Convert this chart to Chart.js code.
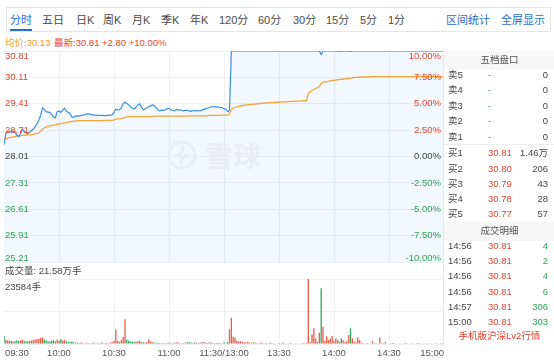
<!DOCTYPE html>
<html>
<head>
<meta charset="utf-8">
<script src="https://cdn.jsdelivr.net/npm/chart.js@4.4.1/dist/chart.umd.min.js"></script>
<style>
  body { margin: 0; width: 554px; height: 362px; overflow: hidden; background: #fff; position: relative;
         font-family: "Liberation Sans", Arial, "Noto Sans CJK SC", sans-serif; }
  .t { position: absolute; white-space: nowrap; line-height: 14px; }
  #tabs { position: absolute; left: 6px; top: 7px; width: 545px; height: 25px; border: 1px solid #e6e6e6; box-sizing: border-box; }
  .tab { font-size: 11px; color: #4a4a4a; top: 13px; }
  #priceBox { position: absolute; left: 0; top: 40px; }
  #volBox { position: absolute; left: 0; top: 265px; }
  #book { position: absolute; left: 443px; top: 48px; width: 111px; height: 297px; border-left: 1px solid #e8e8e8; }
  .hdr { position: absolute; left: 0; width: 111px; height: 19px; background: #f7f7f8; }
  .bk { font-size: 9.5px; }
</style>
</head>
<body>
<div id="tabs"></div>
<div class="t" style="left:5px;top:36px;font-size:9.5px;color:#f09a2a;">均价:30.13</div>
<div class="t" style="left:54px;top:36px;font-size:9.5px;color:#e4472f;">最新:30.81 +2.80 +10.00%</div>
<div id="priceBox"><canvas id="priceChart" width="444" height="230"></canvas></div>
<div id="volBox"><canvas id="volChart" width="444" height="97"></canvas></div>
<div id="book"></div>
<script>
// ---- data ----
const prevClose = 28.01;
const priceTicks = [30.81, 30.11, 29.41, 28.71, 28.01, 27.31, 26.61, 25.91, 25.21];
const pctTicks = ['10.00%', '7.50%', '5.00%', '2.50%', '0.00%', '-2.50%', '-5.00%', '-7.50%', '-10.00%'];
const timeTicks = [0, 30, 60, 90, 120, 150, 180, 210, 240];
const timeLabels = ['09:30', '10:00', '10:30', '11:00', '11:30/13:00', '13:30', '14:00', '14:30', '15:00'];
const volMax = 23584;

const price = [
  28.32, 28.62, 28.66, 28.67, 28.66, 28.68, 28.66, 28.58, 28.54, 28.62,
  28.72, 28.68, 28.64, 28.62, 28.66, 28.70, 28.74, 28.80, 28.88, 28.98,
  29.10, 29.30, 29.26, 29.20, 29.19, 29.18, 29.12, 29.05, 29.04, 29.20,
  29.22, 29.18, 29.24, 29.29, 29.22, 29.18, 29.16, 29.06, 29.05, 29.08,
  29.09, 29.08, 29.10, 29.11, 29.12, 29.14, 29.14, 29.13, 29.12, 29.11,
  29.11, 29.10, 29.10, 29.10, 29.10, 29.09, 29.10, 29.10, 29.11, 29.12,
  29.18, 29.27, 29.24, 29.25, 29.30, 29.42, 29.45, 29.42, 29.38, 29.33,
  29.30, 29.27, 29.32, 29.38, 29.41, 29.32, 29.25, 29.28, 29.31, 29.33,
  29.36, 29.38, 29.36, 29.30, 29.25, 29.22, 29.24, 29.23, 29.25, 29.28,
  29.29, 29.25, 29.23, 29.22, 29.26, 29.24, 29.25, 29.23, 29.22, 29.24,
  29.23, 29.22, 29.21, 29.23, 29.22, 29.22, 29.23, 29.22, 29.24, 29.26,
  29.28, 29.29, 29.31, 29.33, 29.33, 29.33, 29.32, 29.33, 29.31, 29.31,
  29.28, 29.26, 29.20, 29.24, 30.81, 30.81, 30.81, 30.81, 30.81, 30.81,
  30.81, 30.81, 30.81, 30.81, 30.81, 30.81, 30.81, 30.81, 30.81, 30.81,
  30.81, 30.81, 30.81, 30.81, 30.81, 30.81, 30.81, 30.81, 30.81, 30.81,
  30.81, 30.81, 30.81, 30.81, 30.81, 30.81, 30.81, 30.81, 30.81, 30.81,
  30.81, 30.81, 30.81, 30.81, 30.81, 30.81, 30.81, 30.81, 30.81, 30.81,
  30.81, 30.81, 30.81, 30.72, 30.81, 30.81, 30.81, 30.81, 30.81, 30.81,
  30.81, 30.81, 30.80, 30.81, 30.80, 30.81, 30.81, 30.81, 30.81, 30.80,
  30.81, 30.81, 30.81, 30.81, 30.81, 30.81, 30.81, 30.81, 30.81, 30.81,
  30.81, 30.81, 30.81, 30.81, 30.81, 30.81, 30.81, 30.81, 30.81, 30.81,
  30.81, 30.81, 30.81, 30.81, 30.81, 30.81, 30.81, 30.81, 30.81, 30.81,
  30.81, 30.81, 30.81, 30.81, 30.81, 30.81, 30.81, 30.81, 30.81, 30.81,
  30.81, 30.81, 30.81, 30.81, 30.81, 30.81, 30.81, 30.81, 30.81, 30.81,
  30.81
];

const avgPrice = [
  28.46, 28.48, 28.50, 28.51, 28.52, 28.53, 28.54, 28.55, 28.55, 28.56,
  28.57, 28.57, 28.58, 28.58, 28.59, 28.59, 28.60, 28.61, 28.62, 28.64,
  28.68, 28.73, 28.77, 28.79, 28.81, 28.82, 28.83, 28.84, 28.85, 28.86,
  28.87, 28.88, 28.89, 28.90, 28.91, 28.92, 28.93, 28.94, 28.95, 28.95,
  28.96, 28.96, 28.96, 28.96, 28.96, 28.96, 28.96, 28.96, 28.96, 28.96,
  28.96, 28.96, 28.96, 28.96, 28.96, 28.97, 28.97, 28.97, 28.97, 28.97,
  28.98, 29.00, 29.01, 29.01, 29.02, 29.03, 29.05, 29.06, 29.06, 29.07,
  29.07, 29.07, 29.07, 29.07, 29.07, 29.07, 29.07, 29.07, 29.07, 29.07,
  29.07, 29.07, 29.08, 29.08, 29.08, 29.08, 29.08, 29.08, 29.08, 29.08,
  29.08, 29.08, 29.08, 29.08, 29.08, 29.08, 29.08, 29.08, 29.08, 29.08,
  29.09, 29.09, 29.09, 29.09, 29.09, 29.09, 29.09, 29.09, 29.09, 29.09,
  29.09, 29.09, 29.10, 29.10, 29.10, 29.10, 29.10, 29.10, 29.11, 29.11,
  29.11, 29.11, 29.11, 29.14, 29.25, 29.29, 29.31, 29.33, 29.34, 29.35,
  29.36, 29.37, 29.38, 29.38, 29.39, 29.39, 29.40, 29.40, 29.41, 29.41,
  29.42, 29.42, 29.43, 29.43, 29.43, 29.44, 29.44, 29.44, 29.45, 29.45,
  29.45, 29.46, 29.46, 29.46, 29.46, 29.47, 29.47, 29.47, 29.47, 29.48,
  29.48, 29.48, 29.48, 29.49, 29.49, 29.49, 29.69, 29.72, 29.76, 29.79,
  29.82, 29.84, 29.86, 29.95, 29.98, 29.99, 30.00, 30.01, 30.02, 30.03,
  30.03, 30.04, 30.05, 30.05, 30.06, 30.06, 30.07, 30.08, 30.08, 30.09,
  30.10, 30.11, 30.11, 30.11, 30.12, 30.12, 30.12, 30.12, 30.12, 30.12,
  30.13, 30.13, 30.13, 30.13, 30.13, 30.13, 30.13, 30.13, 30.13, 30.13,
  30.13, 30.13, 30.13, 30.13, 30.13, 30.13, 30.13, 30.13, 30.13, 30.13,
  30.13, 30.13, 30.13, 30.13, 30.13, 30.13, 30.13, 30.13, 30.13, 30.13,
  30.13, 30.13, 30.13, 30.13, 30.13, 30.13, 30.13, 30.13, 30.13, 30.13,
  30.13
];

const volume = [
  2900, 1500, 1300, 1200, 1100, 900, 1000, 1400, 1100, 1300,
  1500, 1200, 1000, 900, 1100, 1300, 1500, 1600, 1800, 2000,
  2200, 2400, 1600, 1300, 1000, 900, 1200, 1400, 900, 1500,
  1200, 1700, 1300, 1500, 900, 800, 700, 900, 600, 500,
  500, 400, 600, 400, 300, 500, 400, 300, 400, 500,
  300, 400, 300, 500, 400, 300, 400, 300, 500, 600,
  1200, 5300, 1000, 800, 1500, 2500, 9000, 1500, 1200, 900,
  800, 700, 900, 1000, 1200, 700, 600, 500, 700, 1800,
  900, 600, 500, 400, 500, 400, 300, 400, 300, 400,
  500, 400, 300, 400, 600, 500, 400, 300, 400, 500,
  600, 700, 500, 400, 600, 500, 400, 500, 600, 700,
  500, 400, 600, 500, 400, 300, 400, 500, 400, 300,
  600, 400, 700, 5300, 9500, 2600, 2300, 1200, 900, 1000,
  800, 600, 500, 700, 500, 400, 600, 500, 400, 300,
  500, 400, 300, 400, 300, 500, 400, 300, 200, 300,
  400, 300, 500, 300, 200, 300, 400, 300, 200, 300,
  300, 200, 300, 400, 300, 500, 23584, 600, 3500, 5700,
  2000, 800, 4100, 20200, 6300, 1200, 2800, 1400, 2000, 2900,
  1000, 2000, 1400, 800, 2000, 1400, 700, 1000, 3300, 5700,
  2100, 900, 600, 2400, 1400, 500, 400, 300, 400, 300,
  300, 1000, 400, 300, 300, 2400, 400, 300, 700, 300,
  200, 300, 400, 300, 200, 300, 300, 200, 300, 400,
  300, 200, 300, 300, 200, 300, 400, 300, 200, 300,
  300, 200, 300, 300, 200, 300, 300, 200, 300, 400,
  1000
];

// order book
const bookLabels = ['卖5', '卖4', '卖3', '卖2', '卖1', '买1', '买2', '买3', '买4', '买5'];
const bookPrices = ['-', '-', '-', '-', '-', '30.81', '30.80', '30.79', '30.78', '30.77'];
const bookVols = ['0', '0', '0', '0', '0', '1.46万', '206', '43', '28', '57'];
const tradeTimes = ['14:56', '14:56', '14:56', '14:56', '14:57', '15:00'];
const tradePrices = ['30.81', '30.81', '30.81', '30.81', '30.81', '30.81'];
const tradeVols = ['4', '2', '4', '6', '306', '303'];

const tabNames = ['分时', '五日', '日K', '周K', '月K', '季K', '年K', '120分', '60分', '30分', '15分', '5分', '1分'];

// ---- colors ----
const RED = '#e4472f';
const GREEN = '#2fa358';
const GRID = '#eef0f4';
const FONT = '"Liberation Sans", Arial, "Noto Sans CJK SC"';

// top tabs
const tabX = [10, 42, 76, 103, 132, 161, 190, 219, 258, 293, 326, 360, 388];
tabNames.forEach((name, i) => {
    const s = document.createElement('div');
    s.className = 't tab';
    s.style.left = tabX[i] + 'px';
    s.textContent = name;
    if (i === 0) s.style.color = '#1f6fd0';
    document.body.appendChild(s);
});
[['区间统计', 446], ['全屏显示', 501]].forEach(([txt, x]) => {
    const s = document.createElement('div');
    s.className = 't tab';
    s.style.left = x + 'px';
    s.style.color = '#2a6fc9';
    s.textContent = txt;
    document.body.appendChild(s);
});
const ul = document.createElement('div');
ul.style.cssText = 'position:absolute;left:10px;top:29px;width:22px;height:2px;background:#1f6fd0;';
document.body.appendChild(ul);

// right panel
const book = document.getElementById('book');
function addText(txt, x, cy, color, align) {
    const d = document.createElement('div');
    d.className = 't bk';
    d.textContent = txt;
    d.style.color = color;
    d.style.top = (cy - 48 - 7) + 'px';
    if (align === 'right') d.style.right = (554 - x) + 'px';
    else if (align === 'center') { d.style.left = '0'; d.style.width = '111px'; d.style.textAlign = 'center'; }
    else d.style.left = (x - 443) + 'px';
    book.appendChild(d);
}
function addHeader(txt, cy) {
    const h = document.createElement('div');
    h.className = 'hdr';
    h.style.top = (cy - 48 - 9) + 'px';
    book.appendChild(h);
    addText(txt, 0, cy, '#555', 'center');
}
addHeader('五档盘口', 60);
bookLabels.forEach((lab, i) => {
    const cy = i < 5 ? 75 + i * 15.4 : 153.3 + (i - 5) * 15.2;
    addText(lab, 447, cy, '#444');
    addText(bookPrices[i], 487, cy, i < 5 ? GREEN : RED);
    addText(bookVols[i], 547, cy, '#444', 'right');
});
const sep = document.createElement('div');
sep.style.cssText = 'position:absolute;left:0;top:96px;width:111px;height:1px;background:#ececec;';
book.appendChild(sep);
addHeader('成交明细', 230.5);
tradeTimes.forEach((tm, i) => {
    const cy = 245.7 + i * 15.3;
    addText(tm, 447, cy, '#444');
    addText(tradePrices[i], 487, cy, RED);
    addText(tradeVols[i], 547, cy, GREEN, 'right');
});
addText('手机版沪深Lv2行情', 0, 336, '#e33b2a', 'center');

// ---- charts ----
const idx = price.map((_, i) => i);

const priceDecor = {
    id: 'priceDecor',
    beforeDatasetsDraw(chart) {
        const ctx = chart.ctx;
        // watermark
        ctx.save();
        ctx.strokeStyle = '#e9ecf1';
        ctx.lineWidth = 3;
        ctx.beginPath();
        ctx.arc(182, 115, 13, 0, Math.PI * 2);
        ctx.stroke();
        ctx.beginPath();
        ctx.arc(174, 107, 9, -0.2, 1.4);
        ctx.stroke();
        ctx.beginPath();
        ctx.arc(190, 123, 9, Math.PI - 0.2, Math.PI + 1.4);
        ctx.stroke();
        ctx.fillStyle = '#e9ecf1';
        ctx.font = 'bold 28px "Noto Sans CJK SC"';
        ctx.textBaseline = 'middle';
        ctx.fillText('雪球', 205, 116);
        ctx.restore();
    },
    afterDraw(chart) {
        const ctx = chart.ctx;
        const y = chart.scales.y;
        ctx.save();
        ctx.font = '9.5px ' + FONT;
        ctx.textBaseline = 'middle';
        priceTicks.forEach((v, i) => {
            let py = y.getPixelForValue(v);
            if (i === 0) py += 5;
            if (i === priceTicks.length - 1) py -= 4;
            const diff = v - prevClose;
            ctx.fillStyle = diff > 0.001 ? RED : (diff < -0.001 ? GREEN : '#444');
            ctx.textAlign = 'left';
            ctx.fillText(v.toFixed(2), 5, py);
            ctx.textAlign = 'right';
            ctx.fillText(pctTicks[i], 441, py);
        });
        ctx.restore();
    }
};

new Chart(document.getElementById('priceChart'), {
    type: 'line',
    data: {
        labels: idx,
        datasets: [
            {
                data: price,
                borderColor: '#3a8ee6',
                borderWidth: 1.2,
                pointRadius: 0,
                fill: 'start',
                backgroundColor: 'rgba(58,142,230,0.06)'
            },
            {
                data: avgPrice,
                borderColor: '#f3a63a',
                borderWidth: 1.3,
                pointRadius: 0,
                fill: false
            }
        ]
    },
    options: {
        responsive: false,
        animation: false,
        events: [],
        layout: { padding: { left: 4, right: 0, top: 11, bottom: 8 } },
        plugins: { legend: { display: false }, tooltip: { enabled: false }, filler: { drawTime: 'beforeDatasetsDraw' } },
        scales: {
            x: {
                type: 'linear', min: 0, max: 240,
                afterBuildTicks: s => { s.ticks = timeTicks.slice(1, -1).map(v => ({ value: v })); },
                ticks: { display: false },
                grid: { color: GRID, drawTicks: false },
                border: { display: false }
            },
            y: {
                min: priceTicks[priceTicks.length - 1], max: priceTicks[0],
                afterBuildTicks: s => { s.ticks = priceTicks.map(v => ({ value: v })); },
                ticks: { display: false },
                grid: { color: GRID, drawTicks: false },
                border: { display: false }
            }
        }
    },
    plugins: [priceDecor]
});

const volDecor = {
    id: 'volDecor',
    afterDraw(chart) {
        const ctx = chart.ctx;
        const x = chart.scales.x;
        const area = chart.chartArea;
        ctx.save();
        ctx.font = '9.5px ' + FONT;
        ctx.textBaseline = 'middle';
        ctx.fillStyle = '#444';
        ctx.textAlign = 'left';
        ctx.fillText('成交量: 21.58万手', 5, 6);
        ctx.fillText(volMax + '手', 5, area.top + 8);
        ctx.fillStyle = '#555';
        timeTicks.forEach((t, i) => {
            ctx.textAlign = i === 0 ? 'left' : (i === timeTicks.length - 1 ? 'right' : 'center');
            let px = x.getPixelForValue(t);
            if (i === 0) px += 1;
            ctx.fillText(timeLabels[i], px, area.bottom + 9);
        });
        ctx.restore();
    }
};

new Chart(document.getElementById('volChart'), {
    type: 'bar',
    data: {
        labels: idx,
        datasets: [{
            data: volume,
            backgroundColor: volume.map((_, i) => (i === 0 || price[i] < price[i - 1]) ? GREEN : '#ea5a44'),
            borderWidth: 0,
            categoryPercentage: 1,
            barPercentage: 0.7
        }]
    },
    options: {
        responsive: false,
        animation: false,
        events: [],
        layout: { padding: { left: 4, right: 0, top: 14, bottom: 18 } },
        plugins: { legend: { display: false }, tooltip: { enabled: false } },
        scales: {
            x: {
                type: 'linear', min: 0, max: 240, offset: false,
                afterBuildTicks: s => { s.ticks = timeTicks.slice(1, -1).map(v => ({ value: v })); },
                ticks: { display: false },
                grid: { color: GRID, drawTicks: false, offset: false },
                border: { display: false }
            },
            y: {
                min: 0, max: volMax,
                afterBuildTicks: s => { s.ticks = [0, volMax / 2, volMax].map(v => ({ value: v })); },
                ticks: { display: false },
                grid: { color: GRID, drawTicks: false },
                border: { display: false }
            }
        }
    },
    plugins: [volDecor]
});
</script>
</body>
</html>
